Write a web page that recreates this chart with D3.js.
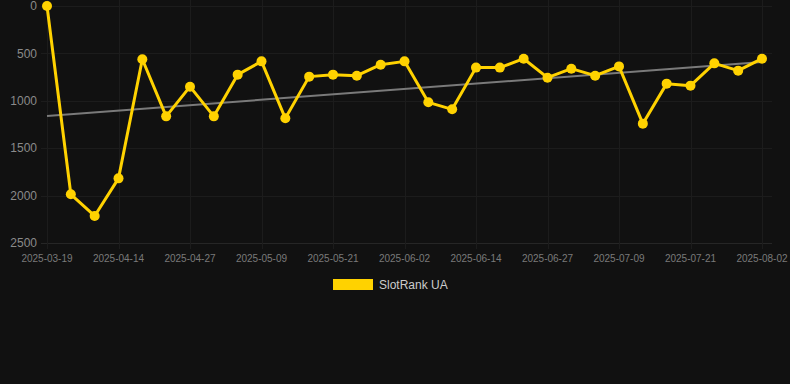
<!DOCTYPE html>
<html><head><meta charset="utf-8">
<script src="https://cdn.jsdelivr.net/npm/d3@7"></script>
<style>html,body{margin:0;padding:0;background:#111111;}svg{display:block;}</style>
</head><body>
<svg id="c" width="790" height="384"></svg>
<script>
const tickLabels = ["2025-03-19","2025-04-14","2025-04-27","2025-05-09","2025-05-21","2025-06-02","2025-06-14","2025-06-27","2025-07-09","2025-07-21","2025-08-02"];
const labelStep = 3;
const ranks = [0,1986,2215,1818,562,1164,851,1164,724,584,1185,745,724,735,619,584,1016,1090,650,650,556,756,661,735,637,1241,819,840,605,682,556];
const trend = [1160,590];
const yTicks = [0,500,1000,1500,2000,2500];
const seriesName = "SlotRank UA";

const svg = d3.select("#c");
const pL = 47, pR = 762, pT = 6, pB = 243;
const x = d3.scaleLinear().domain([0, ranks.length-1]).range([pL, pR]);
const y = d3.scaleLinear().domain([0, 2500]).range([pT, pB]);
const labelIdx = tickLabels.map((d,i)=>i*labelStep);

const grid = svg.append("g");
grid.selectAll("line.h").data(yTicks).join("line")
  .attr("x1", 41).attr("x2", 772).attr("y1", d=>Math.round(y(d))+0.5).attr("y2", d=>Math.round(y(d))+0.5)
  .attr("stroke", d=>d===2500?"#262626":"#1c1c1c").attr("stroke-width", 1);
grid.selectAll("line.v").data(labelIdx).join("line")
  .attr("x1", d=>Math.round(x(d))+0.5).attr("x2", d=>Math.round(x(d))+0.5)
  .attr("y1", 0).attr("y2", 249)
  .attr("stroke", "#1c1c1c").attr("stroke-width", 1);

svg.append("g").selectAll("text").data(yTicks).join("text")
  .attr("x", 37).attr("y", d=>y(d)).attr("dy", "0.35em")
  .attr("text-anchor", "end").attr("fill", "#8a8a8a")
  .attr("font-family", "Liberation Sans, Arial, sans-serif").attr("font-size", 12)
  .text(d=>d);

svg.append("g").selectAll("text").data(tickLabels).join("text")
  .attr("x", (d,i)=>x(labelIdx[i])).attr("y", 262)
  .attr("text-anchor", "middle").attr("fill", "#7a7a7a")
  .attr("font-family", "Liberation Sans, Arial, sans-serif").attr("font-size", 10)
  .text(d=>d);

svg.append("line")
  .attr("x1", x(0)).attr("y1", y(trend[0]))
  .attr("x2", x(ranks.length-1)).attr("y2", y(trend[1]))
  .attr("stroke", "#7a7a7a").attr("stroke-width", 2);

const line = d3.line().x((d,i)=>x(i)).y(d=>y(d));
svg.append("path").datum(ranks).attr("d", line)
  .attr("fill", "none").attr("stroke", "#FFD200").attr("stroke-width", 3)
  .attr("stroke-linejoin", "round");
svg.append("g").selectAll("circle").data(ranks).join("circle")
  .attr("cx", (d,i)=>x(i)).attr("cy", d=>y(d)).attr("r", 5)
  .attr("fill", "#FFD200");

const lg = svg.append("g");
lg.append("rect").attr("x", 333).attr("y", 279).attr("width", 40).attr("height", 11).attr("fill", "#FFD200");
lg.append("text").attr("x", 379).attr("y", 285).attr("dy", "0.35em")
  .attr("fill", "#cccccc").attr("font-family", "Liberation Sans, Arial, sans-serif").attr("font-size", 12)
  .text(seriesName);
</script>
</body></html>
